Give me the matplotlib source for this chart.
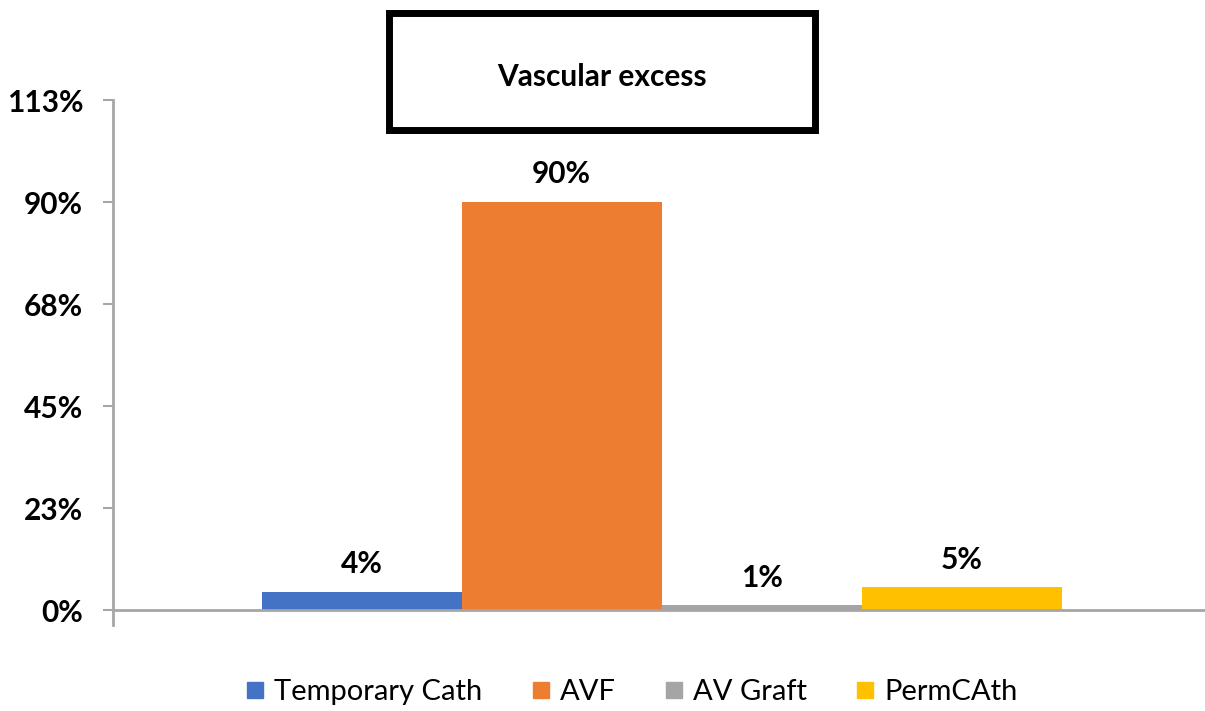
import matplotlib
matplotlib.use("Agg")
import matplotlib.pyplot as plt
from matplotlib.patches import Rectangle
from matplotlib.lines import Line2D

series = ["Temporary Cath", "AVF", "AV Graft", "PermCAth"]
values = [4, 90, 1, 5]
labels = ["4%", "90%", "1%", "5%"]
colors = ["#4472C4", "#ED7D31", "#A5A5A5", "#FFC000"]
yticks = [0, 22.5, 45, 67.5, 90, 112.5]
ytick_labels = ["0%", "23%", "45%", "68%", "90%", "113%"]
title = "Vascular excess"

plt.rcParams['font.family'] = ['Lato', 'DejaVu Sans']
W, H = 1205, 711
fig = plt.figure(figsize=(W / 100, H / 100), dpi=100)
ax = fig.add_axes([113 / W, 1 - 610 / H, (W - 113) / W, 510 / H])

axis_col = "#A6A6A6"
w = 200 / 1092
offsets = [-1.5, -0.5, 0.5, 1.5]
for i, (s, v, lab, c) in enumerate(zip(series, values, labels, colors)):
    x = 0.0025 + offsets[i] * w
    ax.bar(x, v, width=w, color=c, label=s, zorder=2)
    ax.annotate(lab, (x, v), xytext=(0, 13.5), textcoords="offset points",
                ha="center", va="baseline", fontsize=21.5, fontweight="bold")

ax.set_xlim(-0.5, 0.5)
ax.set_ylim(0, 112.5)
ax.set_yticks(yticks)
ax.set_yticklabels(ytick_labels, fontsize=21.5, fontweight="bold")
ax.set_xticks([])
for sp in ["top", "right"]:
    ax.spines[sp].set_visible(False)
ax.spines["left"].set_visible(False)
ax.spines["bottom"].set_color(axis_col)
ax.spines["bottom"].set_linewidth(2)
ax.spines["bottom"].set_zorder(3)
ax.tick_params(axis="y", length=7, width=1.5, color=axis_col, pad=14.5)
# left axis line extending slightly below zero
ax.plot([-0.5, -0.5], [-3.3, 112.5], color=axis_col, lw=2, clip_on=False, zorder=3)

# title box
fig.patches.append(Rectangle((389 / W, 1 - 130 / H), (815 - 389) / W, 117 / H,
                             transform=fig.transFigure, fill=False,
                             edgecolor="black", linewidth=5))
fig.text(602 / W, 1 - 77 / H, title, ha="center", va="center",
         fontsize=21.5, fontweight="bold")

handles = [Line2D([0], [0], marker="s", color="none", markerfacecolor=c,
                  markeredgecolor=c, markersize=12) for c in colors]
fig.legend(handles, series, loc="center", bbox_to_anchor=(632 / W, 1 - 692 / H),
           ncol=4, frameon=False, fontsize=21, handletextpad=0.35,
           columnspacing=1.7, handlelength=0.6)

fig.savefig("out.png", dpi=100)
